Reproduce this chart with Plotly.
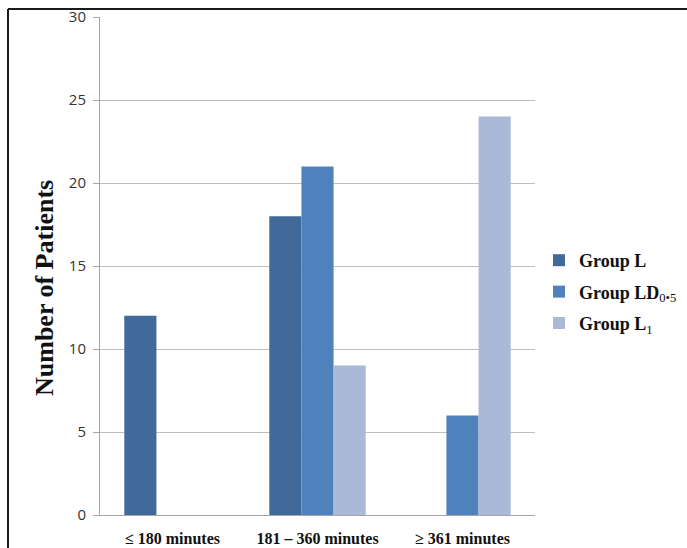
import plotly.graph_objects as go

# Patient counts per duration band for each study group
categories = ["≤ 180 minutes", "181 – 360 minutes", "≥ 361 minutes"]
group_l = [12, 18, None]
group_ld05 = [None, 21, 6]
group_l1 = [None, 9, 24]

series_names = ["<b>Group L</b>", "<b>Group LD</b><sub>0•5</sub>", "<b>Group L</b><sub>1</sub>"]
series_colors = ["#416A9B", "#4F81BD", "#AAB9D7"]
y_ticks = [0, 5, 10, 15, 20, 25, 30]

W, H = 687, 548
L, R, T, B = 100, 152, 17, 33

fig = go.Figure()
for i, (name, vals, col) in enumerate(zip(series_names, [group_l, group_ld05, group_l1], series_colors)):
    fig.add_trace(go.Bar(x=categories, y=vals, name=name, marker_color=col,
                         marker_line_width=0, legendgroup=f"g{i}"))

serif = "Liberation Serif, Times New Roman, serif"

pw, ph = W - L - R, H - T - B
def px_x(px):
    return (px - L) / pw
def px_y(py):
    return (H - B - py) / ph

fig.update_layout(
    width=W, height=H,
    margin=dict(l=L, r=R, t=T, b=B, autoexpand=False),
    paper_bgcolor="white", plot_bgcolor="white",
    barmode="group", bargap=0.335, bargroupgap=0,
    showlegend=True,
    legend=dict(x=px_x(539), y=px_y(292),
                xanchor="left", yanchor="middle",
                font=dict(family=serif, size=18, color="#111"),
                itemwidth=30, traceorder="grouped", tracegroupgap=5),
    xaxis=dict(showgrid=False, showline=True, linecolor="#A6A6A6", linewidth=1,
               ticks="", ticklabelstandoff=9,
               tickfont=dict(family=serif, size=16, color="#111"),
               tickprefix="<b>", ticksuffix="</b>"),
    yaxis=dict(range=[0, 30], tickvals=y_ticks, showgrid=True, gridcolor="#BEBEBE",
               gridwidth=1, showline=True, linecolor="#A6A6A6", linewidth=1,
               ticks="outside", ticklen=6, tickcolor="#A6A6A6", ticklabelstandoff=4,
               tickfont=dict(family="Open Sans, Liberation Sans, sans-serif", size=15, color="#333"),
               zeroline=False),
)

# Vertical axis title
fig.add_annotation(text="<b>Number of Patients</b>", xref="paper", yref="paper",
                   x=px_x(44), y=px_y(288), textangle=-90, showarrow=False,
                   xanchor="center", yanchor="middle",
                   font=dict(family=serif, size=26, color="#111"))

# Frame lines along the top and left of the figure
fig.add_shape(type="line", xref="paper", yref="paper",
              x0=px_x(8), x1=px_x(W + 2), y0=px_y(9), y1=px_y(9),
              line=dict(color="#1a1a1a", width=2))
fig.add_shape(type="line", xref="paper", yref="paper",
              x0=px_x(8), x1=px_x(8), y0=px_y(9), y1=px_y(H + 2),
              line=dict(color="#1a1a1a", width=2))

fig.write_html("out.html")
